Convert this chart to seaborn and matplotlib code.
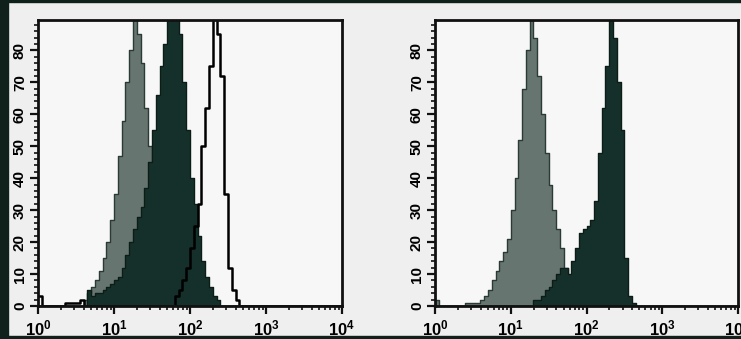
import numpy as np
import pandas as pd
import matplotlib
matplotlib.use("Agg")
import matplotlib.pyplot as plt
import seaborn as sns
from matplotlib.patches import Rectangle
from matplotlib.ticker import MultipleLocator, LogLocator, LogFormatterMathtext

# -----------------------------
# DATA (counts per channel, 0.05 decade channels from 10^0 to 10^4)
# -----------------------------
bin_step = 0.05
n_bins = 80

# left panel
left_light_start = 12
left_light = [2, 4, 6, 8, 11, 15, 20, 27, 35, 47, 58, 70, 80, 92, 85, 76,
              62, 50, 38, 27, 16, 9, 5, 2, 1]
left_dark_start = 13
left_dark = [5, 3, 4, 4, 5, 6, 7, 8, 9, 12, 16, 20, 24, 28, 31, 37, 45, 55,
             66, 75, 82, 90, 92, 90, 85, 70, 55, 40, 32, 22, 14, 9, 6, 3, 2]
left_open_start = 0
left_open = [3, 0, 0, 0, 0, 0, 0, 1, 1, 1, 1, 2] + [0] * 24 + \
            [3, 5, 8, 12, 18, 25, 32, 50, 62, 75, 92, 85, 72, 35, 12, 5, 2]

# right panel
right_light_start = 0
right_light = [2, 0, 0, 0, 0, 0, 0, 0, 1, 1, 1, 1, 2, 3, 5, 8, 11, 14, 17,
               21, 30, 40, 52, 68, 80, 92, 84, 72, 60, 48, 38, 30, 24, 18,
               12, 9, 5, 2]
right_dark_start = 26
right_dark = [2, 2, 3, 5, 6, 8, 10, 12, 12, 10, 14, 18, 23, 24, 25, 27, 33,
              48, 62, 75, 92, 84, 70, 55, 15, 3, 1]

y_ticks = [0, 10, 20, 30, 40, 50, 60, 70, 80]

# -----------------------------
# HELPERS
# -----------------------------
centers = 10 ** (np.arange(n_bins) * bin_step + bin_step / 2)


def channel_counts(start, counts):
    arr = np.zeros(n_bins)
    arr[start:start + len(counts)] = counts
    return arr


light_col = "#66756f"
dark_col = "#15302a"
bg_col = "#efefef"

plt.rcParams["font.family"] = ["Liberation Sans", "DejaVu Sans"]
plt.rcParams["mathtext.default"] = "regular"

fig = plt.figure(figsize=(7.41, 3.39), dpi=100)
fig.patch.set_facecolor(bg_col)

W, H = 741, 339
panels = [
    ([38, 33, 304, 286], [(left_light_start, left_light, "light"),
                          (left_dark_start, left_dark, "dark"),
                          (left_open_start, left_open, "open")]),
    ([435, 33, 303, 286], [(right_light_start, right_light, "light"),
                           (right_dark_start, right_dark, "dark")]),
]

hist_kw = dict(x="fl", weights="n", binwidth=bin_step, binrange=(0, 4),
               log_scale=True, element="step")

for (px, py, pw, ph), series in panels:
    ax = fig.add_axes([px / W, py / H, pw / W, ph / H])
    ax.set_facecolor("#f7f7f7")

    for start, counts, kind in series:
        df = pd.DataFrame({"fl": centers, "n": channel_counts(start, counts)})
        if kind == "light":
            sns.histplot(data=df, fill=True, color=light_col,
                         edgecolor="#2a3a34", linewidth=1.0, alpha=1,
                         ax=ax, **hist_kw)
        elif kind == "dark":
            sns.histplot(data=df, fill=True, color=dark_col,
                         edgecolor="#0c1c17", linewidth=1.0, alpha=1,
                         ax=ax, **hist_kw)
        else:
            sns.histplot(data=df, fill=False, color="black", linewidth=1.8,
                         ax=ax, **hist_kw)

    ax.set_xlim(1, 1e4)
    ax.set_ylim(0, 89.5)
    ax.set_xlabel("")
    ax.set_ylabel("")

    ax.xaxis.set_major_locator(LogLocator(base=10, numticks=10))
    ax.xaxis.set_minor_locator(LogLocator(base=10, subs=np.arange(2, 10), numticks=50))
    ax.xaxis.set_major_formatter(LogFormatterMathtext())
    ax.set_yticks(y_ticks)
    ax.yaxis.set_minor_locator(MultipleLocator(2))

    ax.tick_params(axis="both", which="major", direction="out", length=6,
                   width=1.6, color="#111111")
    ax.tick_params(axis="both", which="minor", direction="out", length=3,
                   width=1.2, color="#111111")
    ax.tick_params(axis="x", labelsize=12, pad=3)
    ax.tick_params(axis="y", labelrotation=90, labelsize=11, pad=2)
    for lab in ax.get_yticklabels():
        lab.set_fontweight("bold")
        lab.set_va("center")
    for lab in ax.get_xticklabels():
        lab.set_fontweight("bold")

    for sp in ax.spines.values():
        sp.set_linewidth(2)
        sp.set_color("#111111")
    ax.grid(False)

# scanned frame edges
fig.patches.append(Rectangle((0, 0), 8 / W, 1, transform=fig.transFigure,
                             color="#10201b", zorder=-1))
fig.patches.append(Rectangle((0, 0), 1, 3 / H, transform=fig.transFigure,
                             color="#10201b", zorder=-1))
fig.patches.append(Rectangle((0, 1 - 2 / H), 1, 2 / H, transform=fig.transFigure,
                             color="#10201b", zorder=-1))

fig.savefig("out.png", dpi=100, facecolor=fig.get_facecolor())
